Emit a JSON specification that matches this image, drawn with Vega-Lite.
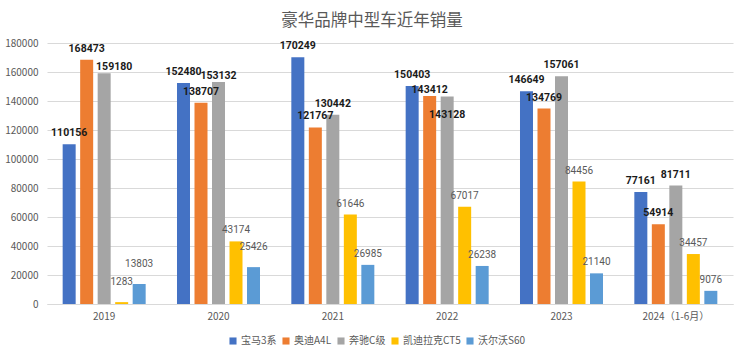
{
  "$schema": "https://vega.github.io/schema/vega-lite/v6.json",
  "width": 686,
  "height": 261,
  "autosize": {"type": "none"},
  "padding": {"left": 47, "top": 43, "right": 11, "bottom": 52},
  "background": "white",
  "title": {
    "text": "豪华品牌中型车近年销量",
    "font": "Noto Sans CJK SC",
    "fontSize": 16.5,
    "fontWeight": "normal",
    "color": "#595959",
    "anchor": "middle",
    "frame": "group",
    "baseline": "bottom",
    "offset": 9,
    "dy": 16,
    "dx": -18
  },
  "data": {
    "values": [
      {"year": "2019", "brand": "宝马3系", "sales": 110156},
      {"year": "2019", "brand": "奥迪A4L", "sales": 168473},
      {"year": "2019", "brand": "奔驰C级", "sales": 159180},
      {"year": "2019", "brand": "凯迪拉克CT5", "sales": 1283},
      {"year": "2019", "brand": "沃尔沃S60", "sales": 13803},
      {"year": "2020", "brand": "宝马3系", "sales": 152480},
      {"year": "2020", "brand": "奥迪A4L", "sales": 138707},
      {"year": "2020", "brand": "奔驰C级", "sales": 153132},
      {"year": "2020", "brand": "凯迪拉克CT5", "sales": 43174},
      {"year": "2020", "brand": "沃尔沃S60", "sales": 25426},
      {"year": "2021", "brand": "宝马3系", "sales": 170249},
      {"year": "2021", "brand": "奥迪A4L", "sales": 121767},
      {"year": "2021", "brand": "奔驰C级", "sales": 130442},
      {"year": "2021", "brand": "凯迪拉克CT5", "sales": 61646},
      {"year": "2021", "brand": "沃尔沃S60", "sales": 26985},
      {"year": "2022", "brand": "宝马3系", "sales": 150403},
      {"year": "2022", "brand": "奥迪A4L", "sales": 143412},
      {"year": "2022", "brand": "奔驰C级", "sales": 143128},
      {"year": "2022", "brand": "凯迪拉克CT5", "sales": 67017},
      {"year": "2022", "brand": "沃尔沃S60", "sales": 26238},
      {"year": "2023", "brand": "宝马3系", "sales": 146649},
      {"year": "2023", "brand": "奥迪A4L", "sales": 134769},
      {"year": "2023", "brand": "奔驰C级", "sales": 157061},
      {"year": "2023", "brand": "凯迪拉克CT5", "sales": 84456},
      {"year": "2023", "brand": "沃尔沃S60", "sales": 21140},
      {"year": "2024（1-6月）", "brand": "宝马3系", "sales": 77161},
      {"year": "2024（1-6月）", "brand": "奥迪A4L", "sales": 54914},
      {"year": "2024（1-6月）", "brand": "奔驰C级", "sales": 81711},
      {"year": "2024（1-6月）", "brand": "凯迪拉克CT5", "sales": 34457},
      {"year": "2024（1-6月）", "brand": "沃尔沃S60", "sales": 9076}
    ]
  },
  "encoding": {
    "x": {
      "field": "year",
      "type": "nominal",
      "sort": null,
      "scale": {"paddingInner": 0.274, "paddingOuter": 0.137},
      "axis": {
        "title": null,
        "labelAngle": 0,
        "ticks": false,
        "domain": true,
        "domainColor": "#d9d9d9",
        "labelPadding": 7,
        "labelFont": "Noto Sans CJK SC",
        "labelFontSize": 10,
        "labelColor": "#595959"
      }
    },
    "xOffset": {
      "field": "brand",
      "type": "nominal",
      "sort": ["宝马3系", "奥迪A4L", "奔驰C级", "凯迪拉克CT5", "沃尔沃S60"],
      "scale": {"paddingInner": 0.257, "paddingOuter": 0}
    },
    "y": {
      "field": "sales",
      "type": "quantitative",
      "scale": {"domain": [0, 180000], "nice": false},
      "axis": {
        "title": null,
        "values": [0, 20000, 40000, 60000, 80000, 100000, 120000, 140000, 160000, 180000],
        "format": "d",
        "ticks": false,
        "domain": false,
        "gridColor": "#d9d9d9",
        "labelPadding": 9,
        "labelFont": "Noto Sans CJK SC",
        "labelFontSize": 10,
        "labelColor": "#595959"
      }
    }
  },
  "layer": [
    {
      "mark": {"type": "bar"},
      "encoding": {
        "color": {
          "field": "brand",
          "type": "nominal",
          "sort": ["宝马3系", "奥迪A4L", "奔驰C级", "凯迪拉克CT5", "沃尔沃S60"],
          "scale": {
            "domain": ["宝马3系", "奥迪A4L", "奔驰C级", "凯迪拉克CT5", "沃尔沃S60"],
            "range": ["#4472C4", "#ED7D31", "#A5A5A5", "#FFC000", "#5B9BD5"]
          },
          "legend": {
            "title": null,
            "orient": "none",
            "direction": "horizontal",
            "legendX": 181,
            "legendY": 293,
            "gridAlign": "none",
            "symbolType": "square",
            "symbolSize": 50,
            "symbolStrokeWidth": 0,
            "labelFont": "Noto Sans CJK SC",
            "labelFontSize": 10,
            "labelColor": "#595959",
            "labelOffset": 3,
            "columnPadding": 4
          }
        }
      }
    },
    {
      "transform": [
        {"filter": {"field": "brand", "oneOf": ["宝马3系", "奥迪A4L", "奔驰C级"]}},
        {"filter": "indexof([159180, 153132, 143412, 143128], datum.sales) < 0"}
      ],
      "mark": {"type": "text", "baseline": "middle", "dy": -11, "font": "Roboto", "fontSize": 10.5, "fontWeight": "bold", "color": "#1a1a1a"},
      "encoding": {"text": {"field": "sales", "type": "quantitative", "format": "d"}}
    },
    {
      "transform": [
        {"filter": {"field": "sales", "oneOf": [153132, 143412]}}
      ],
      "mark": {"type": "text", "baseline": "middle", "dy": -6, "font": "Roboto", "fontSize": 10.5, "fontWeight": "bold", "color": "#1a1a1a"},
      "encoding": {"text": {"field": "sales", "type": "quantitative", "format": "d"}}
    },
    {
      "transform": [
        {"filter": {"field": "sales", "equal": 159180}}
      ],
      "mark": {"type": "text", "baseline": "middle", "dy": -6, "dx": 10, "font": "Roboto", "fontSize": 10.5, "fontWeight": "bold", "color": "#1a1a1a"},
      "encoding": {"text": {"field": "sales", "type": "quantitative", "format": "d"}}
    },
    {
      "transform": [
        {"filter": {"field": "sales", "equal": 143128}}
      ],
      "mark": {"type": "text", "baseline": "middle", "dy": 19, "font": "Roboto", "fontSize": 10.5, "fontWeight": "bold", "color": "#1a1a1a"},
      "encoding": {"text": {"field": "sales", "type": "quantitative", "format": "d"}}
    },
    {
      "transform": [
        {"filter": {"field": "brand", "oneOf": ["凯迪拉克CT5", "沃尔沃S60"]}},
        {"filter": "indexof([1283, 13803, 25426], datum.sales) < 0"}
      ],
      "mark": {"type": "text", "baseline": "middle", "dy": -11, "font": "Roboto", "fontSize": 10, "color": "#595959"},
      "encoding": {"text": {"field": "sales", "type": "quantitative", "format": "d"}}
    },
    {
      "transform": [
        {"filter": {"field": "sales", "oneOf": [1283, 13803, 25426]}}
      ],
      "mark": {"type": "text", "baseline": "middle", "dy": -20, "font": "Roboto", "fontSize": 10, "color": "#595959"},
      "encoding": {"text": {"field": "sales", "type": "quantitative", "format": "d"}}
    }
  ],
  "config": {
    "view": {"stroke": null},
    "font": "Noto Sans CJK SC"
  }
}
